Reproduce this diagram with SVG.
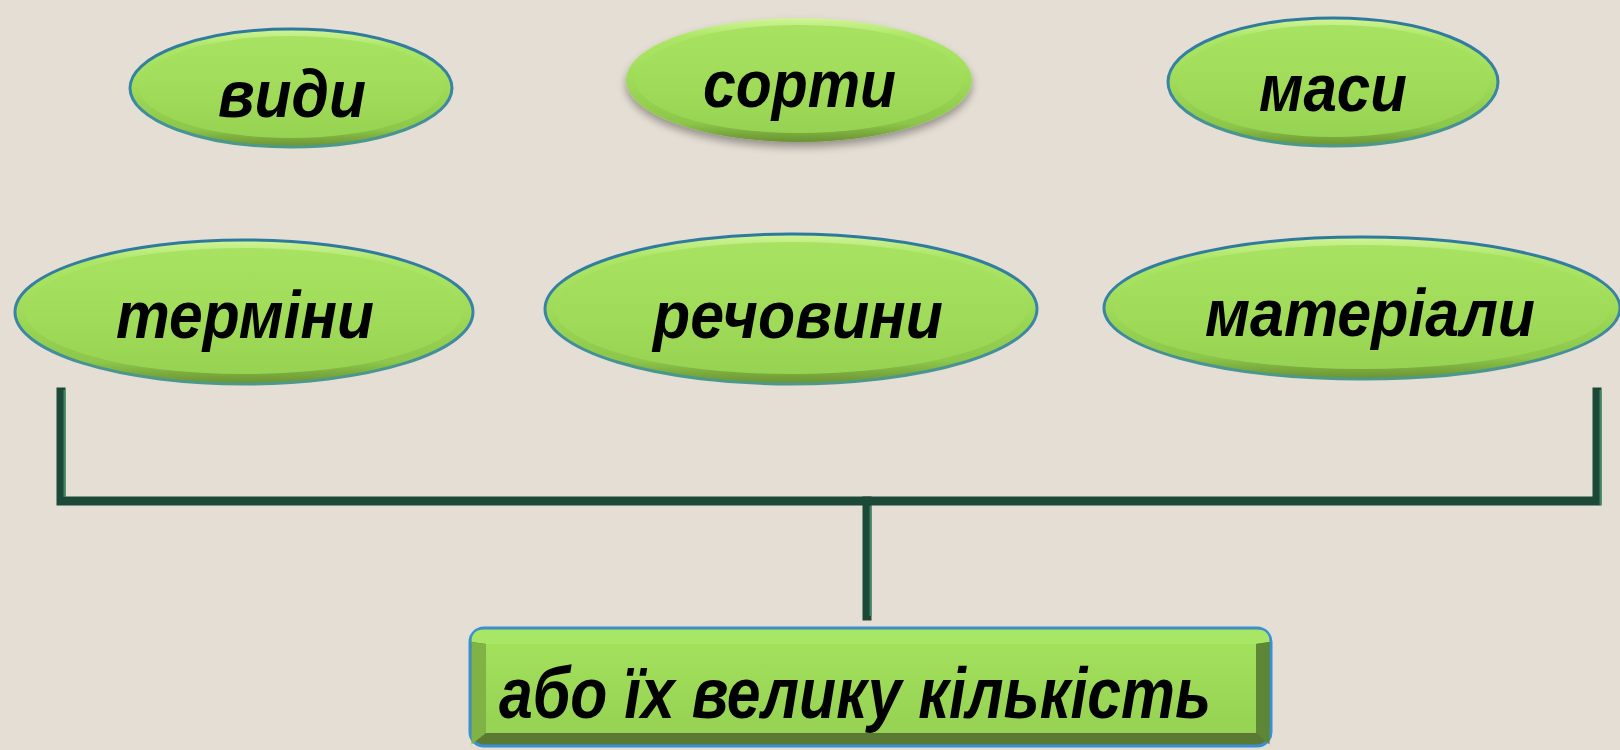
<svg xmlns="http://www.w3.org/2000/svg" width="1620" height="750" viewBox="0 0 1620 750">
<defs>
<style>
.lbl{font-family:"Liberation Sans",Arial,sans-serif;font-weight:bold;font-style:italic;font-size:67px;fill:#000}
.big{font-size:73px}
.rim{fill:url(#gRim);stroke:url(#gStroke);stroke-width:3}
.face{fill:url(#gFace)}
.br{fill:none;stroke:#1c4838;stroke-width:9;stroke-linejoin:miter;stroke-linecap:square}
.hl{fill:none;stroke:#3c8666;stroke-width:2}
</style>
<linearGradient id="gRim" x1="0" y1="0" x2="0" y2="1">
<stop offset="0" stop-color="#d0f498"/>
<stop offset="0.15" stop-color="#ace666"/>
<stop offset="0.5" stop-color="#9fdb58"/>
<stop offset="0.85" stop-color="#8cc64a"/>
<stop offset="1" stop-color="#6a9232"/>
</linearGradient>
<linearGradient id="gFace" x1="0" y1="0" x2="0" y2="1">
<stop offset="0" stop-color="#a8e262"/>
<stop offset="0.6" stop-color="#9fdb58"/>
<stop offset="1" stop-color="#97d352"/>
</linearGradient>
<linearGradient id="gStroke" x1="0" y1="0" x2="0" y2="1">
<stop offset="0" stop-color="#2f7a9c"/>
<stop offset="0.6" stop-color="#3b86a6"/>
<stop offset="1" stop-color="#4d9a8a"/>
</linearGradient>
<linearGradient id="gBox" x1="0" y1="0" x2="0" y2="1">
<stop offset="0" stop-color="#a2e05c"/>
<stop offset="1" stop-color="#96d253"/>
</linearGradient>
<filter id="sh" x="-10%" y="-20%" width="120%" height="150%">
<feGaussianBlur in="SourceAlpha" stdDeviation="4"/>
<feOffset dx="0" dy="5" result="b"/>
<feComponentTransfer><feFuncA type="linear" slope="0.35"/></feComponentTransfer>
<feMerge><feMergeNode/><feMergeNode in="SourceGraphic"/></feMerge>
</filter>
</defs>
<rect width="1620" height="750" fill="#e4ded4"/>

<g id="connectors">
<polyline class="br" points="61,392 61,501 1597,501 1597,392"/>
<line class="br" x1="867" y1="501" x2="867" y2="616"/>
<line class="hl" x1="64.5" y1="390" x2="64.5" y2="497"/>
<line class="hl" x1="870.5" y1="506" x2="870.5" y2="616"/>
<line class="hl" x1="1600.5" y1="390" x2="1600.5" y2="505"/>
</g>

<g id="node-vydy">
<ellipse class="rim" cx="291" cy="88" rx="161" ry="59"/>
<ellipse class="face" cx="291" cy="87" rx="152" ry="51"/>
<text class="lbl" x="218" y="117" textLength="148" lengthAdjust="spacingAndGlyphs">види</text>
</g>

<g id="node-sorty">
<g filter="url(#sh)">
<ellipse cx="799" cy="80" rx="173" ry="62" fill="url(#gRim)"/>
<ellipse class="face" cx="799" cy="79" rx="164" ry="54"/>
</g>
<text class="lbl" x="703" y="107" textLength="193" lengthAdjust="spacingAndGlyphs">сорти</text>
</g>

<g id="node-masy">
<ellipse class="rim" cx="1333" cy="82" rx="165" ry="64"/>
<ellipse class="face" cx="1333" cy="81" rx="156" ry="56"/>
<text class="lbl" x="1259" y="111" textLength="148" lengthAdjust="spacingAndGlyphs">маси</text>
</g>

<g id="node-terminy">
<ellipse class="rim" cx="244" cy="312" rx="229" ry="72"/>
<ellipse class="face" cx="244" cy="311" rx="219" ry="63"/>
<text class="lbl" x="116" y="338" textLength="258" lengthAdjust="spacingAndGlyphs">терміни</text>
</g>

<g id="node-rechovyny">
<ellipse class="rim" cx="791" cy="309" rx="246" ry="75"/>
<ellipse class="face" cx="791" cy="308" rx="236" ry="66"/>
<text class="lbl" x="653" y="338" textLength="290" lengthAdjust="spacingAndGlyphs">речовини</text>
</g>

<g id="node-materialy">
<ellipse class="rim" cx="1362" cy="308" rx="258" ry="71"/>
<ellipse class="face" cx="1362" cy="307" rx="248" ry="62"/>
<text class="lbl" x="1205" y="336" textLength="330" lengthAdjust="spacingAndGlyphs">матеріали</text>
</g>

<g id="node-kilkist">
<rect x="470" y="628" width="801" height="118" rx="14" fill="#5a7a34" stroke="#3a90d6" stroke-width="3"/>
<path d="M484,629.5 L1257,629.5 Q1269.5,629.5 1269.5,642 L1256,644 L486,644 L471.5,642 Q471.5,629.5 484,629.5 Z" fill="#a8e666"/>
<path d="M471.5,642 L486,644 L486,733 L471.5,744.5 Z" fill="#80b245"/>
<path d="M1256,644 L1269.5,642 L1269.5,744.5 L1256,733 Z" fill="#5e8637"/>
<rect x="486" y="644" width="770" height="89" fill="url(#gBox)"/>
<text class="lbl big" x="499" y="718" textLength="712" lengthAdjust="spacingAndGlyphs">або їх велику кількість</text>
</g>
</svg>
